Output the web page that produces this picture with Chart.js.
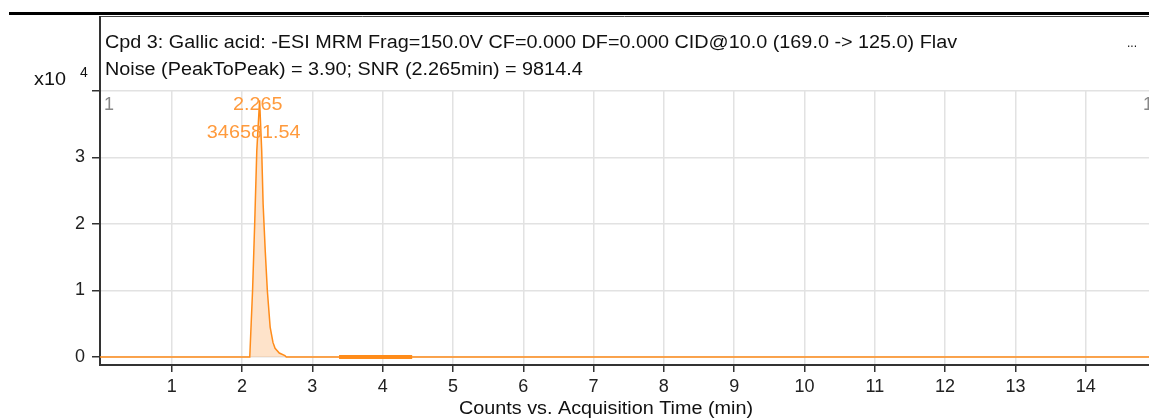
<!DOCTYPE html>
<html>
<head>
<meta charset="utf-8">
<script src="https://cdn.jsdelivr.net/npm/chart.js@4"></script>
<style>
  body { margin: 0; background: #fff; }
  canvas { display: block; }
</style>
</head>
<body>
<canvas id="chrom" width="1149" height="419"></canvas>
<script>
// acquisition time (min) and counts (x10^4)
const times  = [-0.02, 2.11, 2.15, 2.18, 2.21, 2.25, 2.28, 2.30, 2.33, 2.36, 2.40, 2.44, 2.47, 2.53, 2.61, 2.63, 14.9];
const counts = [0, 0, 1.0, 2.0, 3.1, 3.86, 3.1, 2.3, 1.6, 1.0, 0.45, 0.22, 0.13, 0.06, 0.02, 0, 0];

// noise region marker
const noiseTimes  = [3.38, 4.42];
const noiseCounts = [0, 0];

const xTicks = [1, 2, 3, 4, 5, 6, 7, 8, 9, 10, 11, 12, 13, 14];
const yTicks = [0, 1, 2, 3, 4];

const titleLine1 = 'Cpd 3: Gallic acid: -ESI MRM Frag=150.0V CF=0.000 DF=0.000 CID@10.0 (169.0 -> 125.0) Flav';
const titleLine2 = 'Noise (PeakToPeak) = 3.90; SNR (2.265min) = 9814.4';
const peakTime = 2.265;
const peakLabel = '2.265';
const peakArea = '346581.54';

const FONT = 'Arial, "Liberation Sans", sans-serif';
const ORANGE = '#ff8c1a';

// text in the original is a bit wider than Arial
function wideText(ctx, text, x, y) {
    ctx.save();
    ctx.translate(x, y);
    ctx.scale(1.1, 1);
    ctx.fillText(text, 0, 0);
    ctx.restore();
}

const decor = {
    id: 'decor',
    afterDraw(chart) {
        const ctx = chart.ctx;
        const area = chart.chartArea;
        const xs = chart.scales.x;
        ctx.save();

        // top rule and header box
        ctx.fillStyle = '#000';
        ctx.fillRect(9, 12, 1140, 3);
        ctx.strokeStyle = '#444';
        ctx.lineWidth = 1;
        ctx.beginPath();
        ctx.moveTo(100, 16.5);
        ctx.lineTo(1149, 16.5);
        ctx.stroke();
        ctx.lineWidth = 2;
        ctx.strokeStyle = '#333';
        ctx.beginPath();
        ctx.moveTo(100, 16);
        ctx.lineTo(100, area.top);
        ctx.stroke();

        ctx.fillStyle = '#111';
        ctx.font = '18px ' + FONT;
        ctx.textBaseline = 'middle';
        ctx.textAlign = 'left';
        wideText(ctx, titleLine1, 105, 43);
        wideText(ctx, titleLine2, 105, 70);
        ctx.font = '12px ' + FONT;
        ctx.fillText('...', 1127, 44);

        // exponent
        ctx.font = '18px ' + FONT;
        wideText(ctx, 'x10', 34, 80);
        ctx.font = '14px ' + FONT;
        ctx.fillText('4', 80, 73);

        // scan markers
        ctx.fillStyle = '#888';
        ctx.font = '18px ' + FONT;
        ctx.fillText('1', 104, 105);
        ctx.fillText('1', 1143, 105);

        // peak annotation
        const px = xs.getPixelForValue(peakTime);
        ctx.fillStyle = '#ff9a3c';
        ctx.textAlign = 'center';
        wideText(ctx, peakLabel, px - 3, area.top + 14);
        wideText(ctx, peakArea, px - 7, area.top + 42);

        // x axis title
        ctx.fillStyle = '#111';
        wideText(ctx, 'Counts vs. Acquisition Time (min)', 606, 409);

        ctx.restore();
    }
};

new Chart(document.getElementById('chrom').getContext('2d'), {
    type: 'line',
    data: {
        datasets: [
            {
                data: times.map((t, i) => ({ x: t, y: counts[i] })),
                borderColor: ORANGE,
                borderWidth: 1.5,
                backgroundColor: 'rgba(253, 200, 150, 0.5)',
                fill: 'origin',
                pointRadius: 0,
                tension: 0
            },
            {
                data: noiseTimes.map((t, i) => ({ x: t, y: noiseCounts[i] })),
                borderColor: ORANGE,
                borderWidth: 4,
                pointRadius: 0,
                fill: false
            }
        ]
    },
    options: {
        responsive: false,
        devicePixelRatio: 1,
        animation: false,
        layout: { padding: { top: 91, left: 0, right: 0, bottom: 0 } },
        plugins: {
            legend: { display: false },
            tooltip: { enabled: false }
        },
        scales: {
            x: {
                type: 'linear',
                min: -0.02,
                max: 14.9,
                afterFit: scale => { scale.height = 54; },
                afterBuildTicks: scale => { scale.ticks = xTicks.map(v => ({ value: v })); },
                grid: { color: '#e2e2e2', lineWidth: 1.5, tickColor: '#333', tickLength: 7 },
                border: { display: true, color: '#333', width: 2 },
                ticks: { font: { size: 18, family: FONT }, color: '#222', padding: 4, maxRotation: 0 }
            },
            y: {
                min: -0.12,
                max: 4,
                afterFit: scale => { scale.width = 100; },
                afterBuildTicks: scale => { scale.ticks = yTicks.map(v => ({ value: v })); },
                grid: { color: '#e2e2e2', lineWidth: 1.5, tickColor: '#333', tickLength: 8 },
                border: { display: true, color: '#333', width: 2 },
                ticks: {
                    font: { size: 18, family: FONT },
                    color: '#222',
                    padding: 7,
                    callback: v => (v === 4 ? '' : v)
                }
            }
        }
    },
    plugins: [decor]
});
</script>
</body>
</html>
